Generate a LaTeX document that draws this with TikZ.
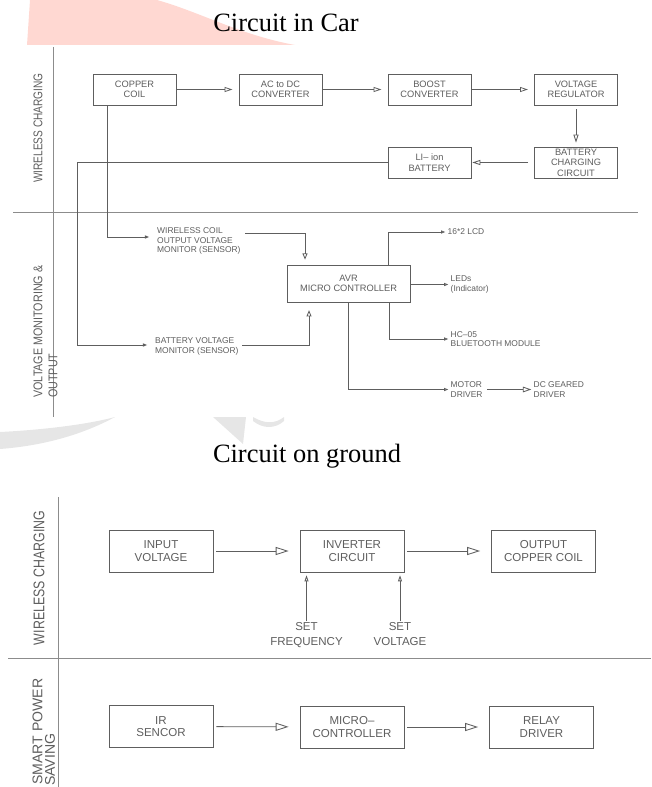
\documentclass[tikz,border=0pt]{standalone}
\usepackage{fontspec}
\usepackage{graphicx}
\setmainfont{Liberation Sans}
\newfontfamily\titlefont{Liberation Serif}
\usetikzlibrary{arrows.meta,calc}
\definecolor{inkgrey}{HTML}{5E5E5E}
\definecolor{rulegrey}{HTML}{8C8C8C}
\definecolor{markpink}{RGB}{255,216,210}
\definecolor{markgrey}{HTML}{E6E6E6}

\begin{document}
\begin{tikzpicture}[x=0.025cm,y=-0.025cm,
  carbox/.style={draw=inkgrey,line width=0.6pt,inner sep=0pt,
    minimum width=2.075cm,minimum height=0.775cm,align=center,
    text=inkgrey,font=\fontsize{6.6}{7.4}\selectfont},
  avrbox/.style={carbox,minimum width=3.075cm,minimum height=0.925cm},
  gndbox/.style={carbox,minimum width=2.6cm,minimum height=1.05cm,
    font=\fontsize{8.2}{8.8}\selectfont},
  tag/.style={align=left,inner sep=1pt,text=inkgrey,
    font=\fontsize{6}{6.8}\selectfont},
  setlbl/.style={align=center,inner sep=1pt,text=inkgrey,anchor=north,
    font=\fontsize{8.2}{10.6}\selectfont},
  side/.style={rotate=90,inner sep=0pt,text=inkgrey},
  ttl/.style={font=\titlefont\fontsize{18.8}{22}\selectfont},
  rule/.style={draw=rulegrey,line width=0.6pt},
  flow/.style={draw=inkgrey,line width=0.6pt,
    -{Triangle[open,length=5.7pt,width=3.6pt]},
    shorten >=4.3pt,shorten <=0.7pt},
  bigflow/.style={flow,-{Triangle[open,length=9.2pt,width=5.7pt]},
    shorten >=7.8pt,shorten <=2pt},
  tap/.style={draw=inkgrey,line width=0.6pt,
    -{Triangle[open,length=3pt,width=2.2pt]},shorten >=0.5pt},
  setarr/.style={tap,-{Triangle[open,length=4.3pt,width=2.8pt]},
    shorten >=2pt}
]
  \useasboundingbox (0,0) rectangle (651,787);

  % watermark remnants
  \fill[markpink] (30,0) -- (157,0) .. controls (200,12) and (240,35)
    .. (295,45) -- (27,45) -- cycle;
  \fill[markgrey] (0,432) .. controls (40,430) and (85,425) .. (115,417)
    .. controls (80,436) and (40,446) .. (0,449) -- cycle;
  \fill[markgrey] (213,417) -- (246,417) -- (243,444) -- cycle;
  \fill[markgrey] (253,417) .. controls (265,424) and (275,424) .. (284,417)
    -- (284,421) .. controls (275,429) and (263,429) .. (253,421) -- cycle;

  % titles
  \node[ttl,anchor=base] (cartitle) at (286,32) {Circuit in Car};
  \node[ttl,anchor=base] (gndtitle) at (307,462) {Circuit on ground};

  % section rules
  \draw[rule] (53,47) -- (53,417);
  \draw[rule] (13,212) -- (638,212);
  \draw[rule] (58,497) -- (58,787);
  \draw[rule] (8,658) -- (651,658);

  % side labels
  \node[side,font=\fontsize{9}{9}\selectfont] (wcside) at (38,128)
    {\scalebox{0.8}[1]{WIRELESS CHARGING}};
  \node[side,anchor=west,font=\fontsize{9}{9}\selectfont] (vmside) at (38,398)
    {\scalebox{0.85}[1]{VOLTAGE MONITORING \&}};
  \node[side,anchor=west,font=\fontsize{9}{9}\selectfont] (outside) at (53,398)
    {\scalebox{0.85}[1]{OUTPUT}};
  \node[side,font=\fontsize{11}{11}\selectfont] (gwcside) at (39,578)
    {\scalebox{0.8}[1]{WIRELESS CHARGING}};
  \node[side,anchor=west,font=\fontsize{10}{10}\selectfont] (spside) at (37.5,785)
    {SMART POWER};
  \node[side,anchor=west,font=\fontsize{10}{10}\selectfont] (svside) at (50,786)
    {SAVING};

  % circuit in car: charging chain
  \node[carbox] (cu) at (134.5,89.5) {COPPER\\COIL};
  \node[carbox] (acdc) at (280.5,89.5) {AC to DC\\CONVERTER};
  \node[carbox] (boost) at (429.5,89.5) {BOOST\\CONVERTER};
  \node[carbox] (vreg) at (576,89.5) {VOLTAGE\\REGULATOR};
  \node[carbox] (bcc) at (576,162.5) {BATTERY\\CHARGING\\CIRCUIT};
  \node[carbox] (liion) at (429.5,162.5) {LI-- ion\\BATTERY};
  \draw[flow] (cu) -- (acdc);
  \draw[flow] (acdc) -- (boost);
  \draw[flow] (boost) -- (vreg);
  \draw[flow,shorten <=2.8pt,shorten >=2.8pt] (vreg) -- (bcc);
  \draw[flow,shorten <=4.3pt,shorten >=0.7pt] (bcc) -- (liion);

  % circuit in car: monitoring
  \coordinate (bus) at (77,300);
  \node[tag,anchor=west] (wcs) at (155.5,241)
    {WIRELESS COIL\\OUTPUT VOLTAGE\\MONITOR (SENSOR)};
  \node[tag,anchor=west] (bvs) at (153.5,346.5)
    {BATTERY VOLTAGE\\MONITOR (SENSOR)};
  \node[avrbox] (avr) at (348.5,283.5) {AVR\\MICRO CONTROLLER};
  \draw[tap,shorten >=4.5pt] ($(cu.south)+(-27.5,0)$)
    |- ($(wcs.west)+(0,-4)$);
  \draw[tap,shorten >=4.5pt] (liion.west) -- (liion.west -| bus)
    |- ($(bvs.west)+(0,-1.5)$);
  \draw[flow,-{Triangle[open,length=4.5pt,width=3.6pt]},shorten >=3.5pt]
    ($(wcs.east)+(2,-8)$) -| ($(avr.north)+(-43.5,0)$);
  \draw[flow,-{Triangle[open,length=4.5pt,width=3.6pt]},shorten >=5.5pt]
    ($(bvs.east)+(1,-1.5)$) -| ($(avr.south)+(-39.5,0)$);

  % circuit in car: outputs
  \node[tag,anchor=west] (lcd) at (446,232) {16*2 LCD};
  \node[tag,anchor=west] (led) at (449,284.5) {LEDs\\(Indicator)};
  \node[tag,anchor=west] (bt) at (449,339) {HC--05\\BLUETOOTH MODULE};
  \node[tag,anchor=west] (motor) at (449,389.5) {MOTOR\\DRIVER};
  \node[tag,anchor=west] (dcg) at (532,389.5) {DC GEARED\\DRIVER};
  \draw[tap] ($(avr.north)+(39.5,0)$) |- (lcd.west);
  \draw[tap] (avr.east |- led.west) -- (led.west);
  \draw[tap] ($(avr.south)+(40.5,0)$) |- (bt.west);
  \draw[tap] (avr.south) |- (motor.west);
  \draw[flow,-{Triangle[open,length=6pt,width=4pt]},shorten <=2pt,
    shorten >=0.5pt] (motor) -- (dcg);

  % circuit on ground: wireless charging
  \node[gndbox] (vin) at (161,551) {INPUT\\VOLTAGE};
  \node[gndbox] (invc) at (352,551) {INVERTER\\CIRCUIT};
  \node[gndbox] (occ) at (543.5,551) {OUTPUT\\COPPER COIL};
  \node[setlbl] (sf) at (306.5,621) {SET\\FREQUENCY};
  \node[setlbl] (sv) at (400,621) {SET\\VOLTAGE};
  \draw[bigflow] (vin) -- (invc);
  \draw[bigflow] (invc) -- (occ);
  \draw[setarr] (sf.north) -- (sf.north |- invc.south);
  \draw[setarr] (sv.north) -- (sv.north |- invc.south);

  % circuit on ground: smart power saving
  \node[gndbox] (ir) at (161,726.5) {IR\\SENCOR};
  \node[gndbox] (mcu) at (352,727) {MICRO--\\CONTROLLER};
  \node[gndbox] (relay) at (541.5,727) {RELAY\\DRIVER};
  \draw[bigflow] (ir) -- (mcu);
  \draw[bigflow] (mcu) -- (relay);
\end{tikzpicture}
\end{document}
